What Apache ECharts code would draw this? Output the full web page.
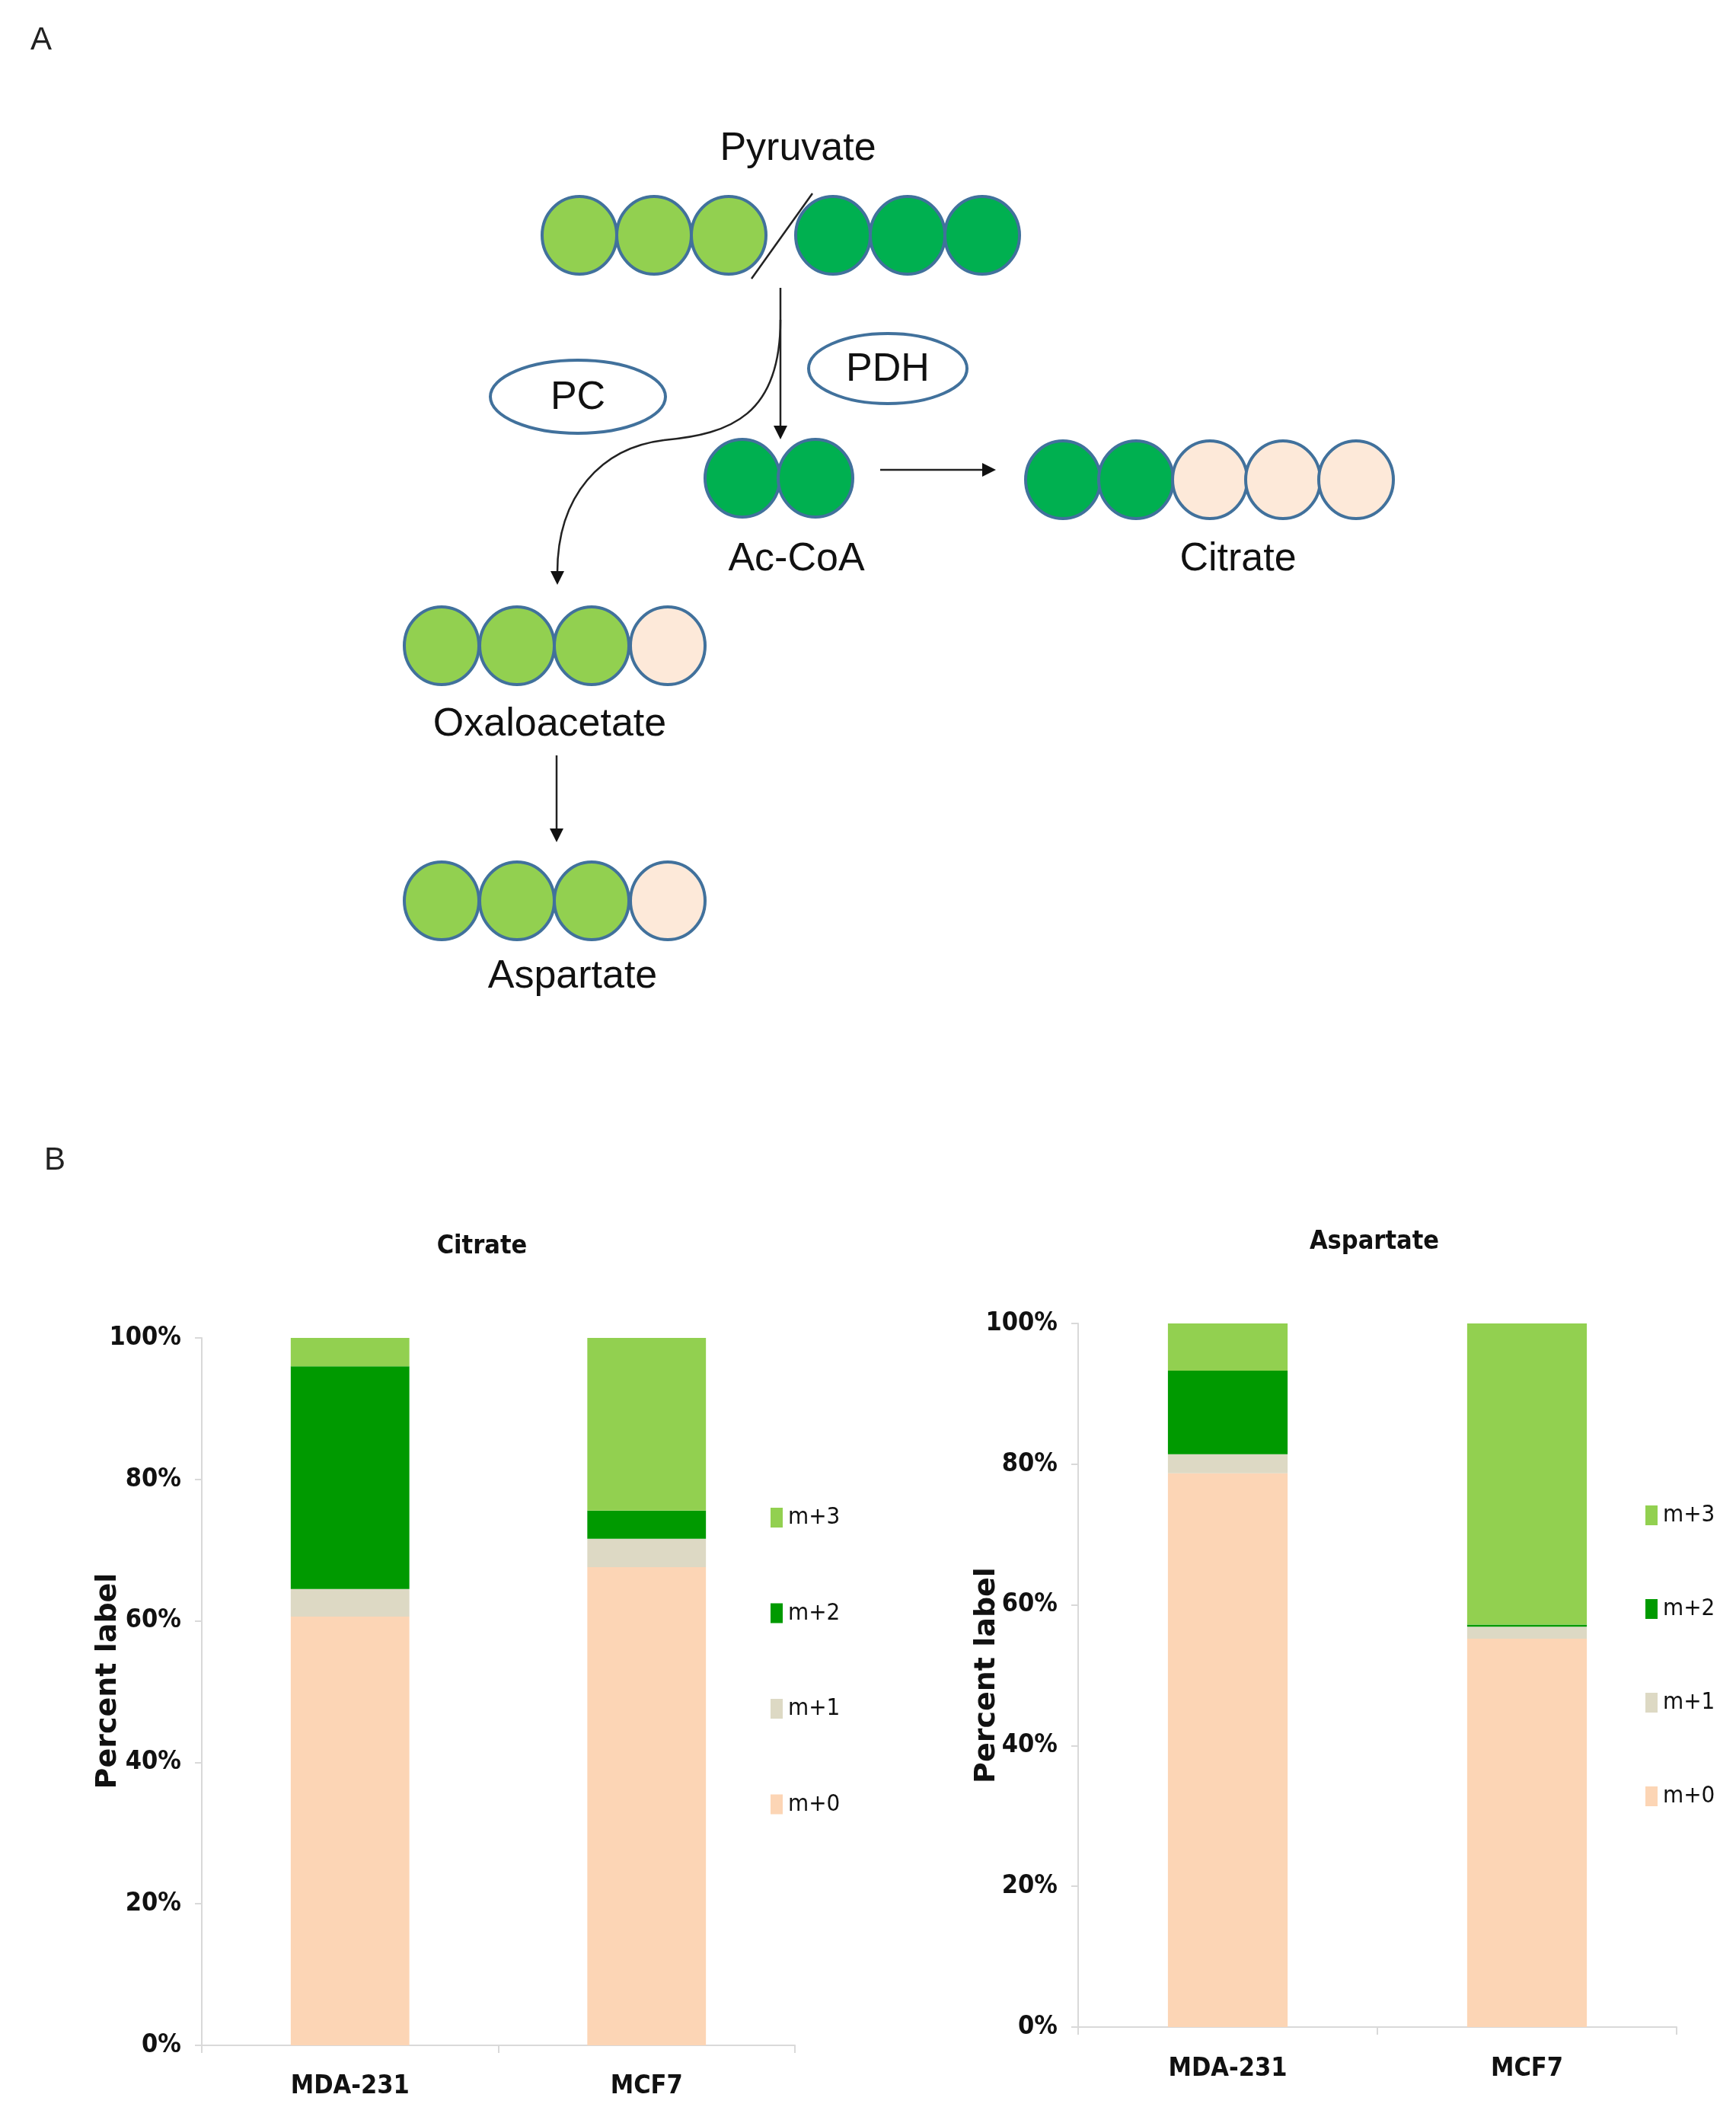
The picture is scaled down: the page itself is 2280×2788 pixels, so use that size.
<!DOCTYPE html>
<html>
<head>
<meta charset="utf-8">
<script src="https://cdn.jsdelivr.net/npm/echarts@6/dist/echarts.min.js"></script>
<style>
html,body{margin:0;padding:0;background:#fff;}
#chart{width:2280px;height:2788px;}
</style>
</head>
<body>
<div id="chart"></div>
<script>
// ---- data ----
const categories = ['MDA-231', 'MCF7'];
const seriesNames = ['m+0', 'm+1', 'm+2', 'm+3'];
const citrateM0 = [60.6, 67.6];
const citrateM1 = [3.9, 4.0];
const citrateM2 = [31.5, 4.0];
const citrateM3 = [4.0, 24.4];
const aspartateM0 = [78.7, 55.2];
const aspartateM1 = [2.7, 1.7];
const aspartateM2 = [11.9, 0.3];
const aspartateM3 = [6.7, 42.8];
const yTicks = [0, 20, 40, 60, 80, 100];

// ---- font selection (pick the narrowest installed sans) ----
const ctx = document.createElement('canvas').getContext('2d');
function available(name) {
  const probe = 'MDA-231 mmmwwlli%';
  for (const base of ['monospace', 'serif']) {
    ctx.font = 'bold 100px ' + base;
    const a = ctx.measureText(probe).width;
    ctx.font = 'bold 100px "' + name + '", ' + base;
    const b = ctx.measureText(probe).width;
    if (a !== b) return true;
  }
  return false;
}
const narrowCandidates = ['Liberation Sans Narrow', 'Arial Narrow', 'DejaVu Sans Condensed', 'Liberation Sans'];
let narrowName = 'Liberation Sans';
for (const c of narrowCandidates) { if (available(c)) { narrowName = c; break; } }
const NARROW = '"' + narrowName + '",sans-serif';
function widthAt100(text, weight) {
  ctx.font = weight + ' 100px ' + NARROW;
  return ctx.measureText(text).width;
}
// sizes: compromise between the reference's label widths and its (taller) glyph heights
const boldSize = Math.min(39, Math.round(100 * 128 / widthAt100('MDA-231', 'bold') * 1.22));
const legendSize = Math.min(37, Math.round(100 * 60 / widthAt100('m+3', 'normal') * 1.15));

// ---- styles ----
const barColors = ['#fcd5b5', '#ddd9c4', '#009a00', '#92d050'];
const SANS = '"Liberation Sans",Arial,sans-serif';
const LG = '#92d050', DG = '#00b050', PE = '#fde9d9', ST = '#41719c';

const chart = echarts.init(document.getElementById('chart'), null, {renderer: 'canvas'});

// ---- diagram (part A) ----
const g = [];
function mol(xs, cy, fills) {
  xs.forEach((cx, i) => {
    g.push({type: 'ellipse', shape: {cx: cx, cy: cy, rx: 49, ry: 51},
      style: {fill: fills[i], stroke: ST, lineWidth: 4}, z: 10});
  });
}
function label(text, x, y, size) {
  g.push({type: 'text', x: x, y: y,
    style: {text: text, font: 'normal ' + size + 'px ' + SANS, fill: '#111', textAlign: 'center', textVerticalAlign: 'middle'}, z: 20});
}
function line(x1, y1, x2, y2) {
  g.push({type: 'line', shape: {x1: x1, y1: y1, x2: x2, y2: y2}, style: {stroke: '#222', lineWidth: 2.5}, z: 5});
}
function head(tx, ty, dir) {
  const L = 18, W = 9;
  let pts;
  if (dir === 'down') pts = [[tx, ty], [tx - W, ty - L], [tx + W, ty - L]];
  else pts = [[tx, ty], [tx - L, ty - W], [tx - L, ty + W]];
  g.push({type: 'polygon', shape: {points: pts}, style: {fill: '#111'}, z: 6});
}
function ell(cx, cy, rx, ry, text) {
  g.push({type: 'ellipse', shape: {cx: cx, cy: cy, rx: rx, ry: ry}, style: {fill: '#fff', stroke: ST, lineWidth: 4}, z: 10});
  label(text, cx, cy + 2, 52);
}

// panel letters
g.push({type: 'text', x: 40, y: 32, style: {text: 'A', font: 'normal 42px ' + SANS, fill: '#222'}, z: 20});
g.push({type: 'text', x: 58, y: 1503, style: {text: 'B', font: 'normal 42px ' + SANS, fill: '#222'}, z: 20});

// Pyruvate
label('Pyruvate', 1048, 196, 52);
mol([761, 859, 957], 309, [LG, LG, LG]);
mol([1094, 1192, 1290], 309, [DG, DG, DG]);
line(987, 366, 1067, 254);
// PDH arrow
line(1025, 378, 1025, 560); head(1025, 577, 'down');
// PC curve
g.push({type: 'bezierCurve', shape: {x1: 1025, y1: 420, cpx1: 1025, cpy1: 545, cpx2: 960, cpy2: 570, x2: 872, y2: 578},
  style: {stroke: '#222', lineWidth: 2.5, fill: null}, z: 5});
g.push({type: 'bezierCurve', shape: {x1: 872, y1: 578, cpx1: 790, cpy1: 588, cpx2: 732, cpy2: 650, x2: 732, y2: 752},
  style: {stroke: '#222', lineWidth: 2.5, fill: null}, z: 5});
head(732, 768, 'down');
ell(759, 521, 115, 48, 'PC');
ell(1166, 484, 104, 46, 'PDH');
// Ac-CoA
mol([975, 1071], 628, [DG, DG]);
label('Ac-CoA', 1046, 735, 52);
line(1156, 617, 1292, 617); head(1308, 617, 'right');
// Citrate
mol([1396, 1492, 1589, 1685, 1781], 630, [DG, DG, PE, PE, PE]);
label('Citrate', 1626, 735, 52);
// Oxaloacetate
mol([580, 679, 777, 877], 848, [LG, LG, LG, PE]);
label('Oxaloacetate', 722, 952, 52);
line(731, 992, 731, 1090); head(731, 1106, 'down');
// Aspartate
mol([580, 679, 777, 877], 1183, [LG, LG, LG, PE]);
label('Aspartate', 752, 1283, 52);

// ---- charts (part B) ----
function xAx(gi, margin) {
  return {type: 'category', gridIndex: gi, data: categories,
    axisLine: {lineStyle: {color: '#d9d9d9', width: 2}},
    axisTick: {show: true, length: 10, lineStyle: {color: '#d9d9d9', width: 2}},
    axisLabel: {fontFamily: NARROW, fontWeight: 'bold', fontSize: boldSize, color: '#111', margin: margin}};
}
function yAx(gi, gap, namePad) {
  return {type: 'value', gridIndex: gi, min: yTicks[0], max: yTicks[yTicks.length - 1], interval: 20,
    name: 'Percent label', nameLocation: 'middle', nameGap: gap, nameMoveOverlap: false,
    nameTextStyle: {fontFamily: '"DejaVu Sans",sans-serif', fontWeight: 'bold', fontSize: 38, color: '#111', padding: namePad},
    axisLine: {show: true, lineStyle: {color: '#d9d9d9', width: 2}},
    axisTick: {show: true, length: 9, lineStyle: {color: '#d9d9d9', width: 2}},
    splitLine: {show: false},
    axisLabel: {formatter: '{value}%', fontFamily: NARROW, fontWeight: 'bold', fontSize: boldSize, color: '#111', margin: 27}};
}
const citrateData = [citrateM0, citrateM1, citrateM2, citrateM3];
const aspartateData = [aspartateM0, aspartateM1, aspartateM2, aspartateM3];
const series = [];
[citrateData, aspartateData].forEach((set, gi) => {
  set.forEach((vals, k) => {
    series.push({type: 'bar', name: seriesNames[k], xAxisIndex: gi, yAxisIndex: gi,
      stack: 's' + gi, data: vals, barWidth: '40%',
      itemStyle: {color: barColors[k]}, emphasis: {disabled: true}});
  });
});
function legend(left, top, gap) {
  return {orient: 'vertical', left: left, top: top, padding: 0, itemGap: gap,
    itemWidth: 16, itemHeight: 26, icon: 'rect', data: ['m+3', 'm+2', 'm+1', 'm+0'],
    selectedMode: false,
    textStyle: {fontFamily: NARROW, fontSize: legendSize, color: '#111', lineHeight: 40, padding: [0, 0, 0, 2]}};
}

chart.setOption({
  animation: false,
  backgroundColor: '#fff',
  title: [
    {text: 'Citrate', left: 633, top: 1620, textAlign: 'center', padding: 0,
      textStyle: {fontFamily: NARROW, fontWeight: 'bold', fontSize: boldSize, color: '#111'}},
    {text: 'Aspartate', left: 1805, top: 1614, textAlign: 'center', padding: 0,
      textStyle: {fontFamily: NARROW, fontWeight: 'bold', fontSize: boldSize, color: '#111'}}
  ],
  legend: [legend(1012, 1973, 85.5), legend(2161, 1970, 83)],
  grid: [
    {left: 265, top: 1757, width: 779, height: 929, containLabel: false},
    {left: 1416, top: 1738, width: 786, height: 924, containLabel: false}
  ],
  xAxis: [xAx(0, 37), xAx(1, 38)],
  yAxis: [yAx(0, 104, [0, 0, 0, 28]), yAx(1, 101, 0)],
  series: series,
  graphic: g
});
</script>
</body>
</html>
